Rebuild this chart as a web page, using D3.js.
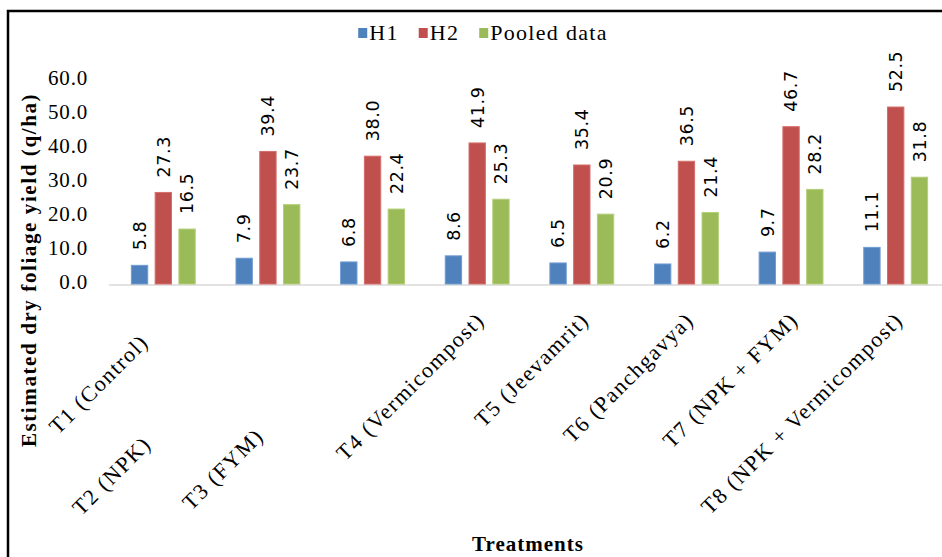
<!DOCTYPE html>
<html>
<head>
<meta charset="utf-8">
<script src="https://cdn.jsdelivr.net/npm/d3@7/dist/d3.min.js"></script>
<style>
  html, body { margin: 0; padding: 0; background: #fff; }
  svg { display: block; }
</style>
</head>
<body>
<script>
// ---- data ----
const categories = ["T1 (Control)", "T2 (NPK)", "T3 (FYM)", "T4 (Vermicompost)", "T5 (Jeevamrit)", "T6 (Panchgavya)", "T7 (NPK + FYM)", "T8 (NPK + Vermicompost)"];
const seriesNames = ["H1", "H2", "Pooled data"];
const h1Values = [5.8, 7.9, 6.8, 8.6, 6.5, 6.2, 9.7, 11.1];
const h2Values = [27.3, 39.4, 38.0, 41.9, 35.4, 36.5, 46.7, 52.5];
const pooledValues = [16.5, 23.7, 22.4, 25.3, 20.9, 21.4, 28.2, 31.8];
const yTicks = [0, 10, 20, 30, 40, 50, 60];
const yTitle = "Estimated dry foliage yield (q/ha)";
const xTitle = "Treatments";

// ---- style / layout ----
const W = 942, H = 557;
const colors = ["#4f81bd", "#c0504d", "#9bbb59"];
const strokes = ["#6f9bd1", "#d46e6b", "#b3cf78"];
const labelShift = [22, 124, 116, 0, 0, 0, 0, 0]; // staggering of category labels along their diagonal
const serif = "'Liberation Serif', 'Times New Roman', serif";
const sans = "'DejaVu Sans', Verdana, sans-serif";

const svg = d3.select("body").append("svg").attr("width", W).attr("height", H);
svg.append("rect").attr("width", W).attr("height", H).attr("fill", "#fff");

// frame (cropped on right and bottom)
svg.append("path").attr("d", `M8,${H + 5} V11 H${W + 5}`)
  .attr("fill", "none").attr("stroke", "#000").attr("stroke-width", 2.5);

const table = categories.map((c, i) => ({ cat: c, vals: [h1Values[i], h2Values[i], pooledValues[i]] }));

const x0 = d3.scaleBand().domain(categories).range([111, 948]).paddingInner(0.38).paddingOuter(0.19);
const x1 = d3.scaleBand().domain(seriesNames).range([0, x0.bandwidth()]).paddingInner(0.27);
const y = d3.scaleLinear().domain([0, 60]).range([285, 81.6]);

// y tick labels
const yAxis = d3.axisLeft(y).tickValues(yTicks).tickSize(0).tickPadding(0).tickFormat(d => d.toFixed(1));
const yg = svg.append("g").attr("transform", "translate(88,0)").call(yAxis);
yg.select(".domain").remove();
yg.selectAll("text")
  .attr("font-family", serif).attr("font-size", 21).attr("fill", "#000")
  .attr("letter-spacing", 0.8).attr("dy", "0.25em").attr("text-anchor", "end")
  .attr("transform", "translate(0,-2)");

// x axis line
svg.append("line").attr("x1", 109).attr("x2", W).attr("y1", y(0)).attr("y2", y(0))
  .attr("stroke", "#d9d9d9").attr("stroke-width", 1.5);

// bars
const groups = svg.append("g").selectAll("g").data(table).join("g")
  .attr("transform", d => `translate(${x0(d.cat)},0)`);

groups.selectAll("rect").data(d => d.vals.map((v, k) => ({ v, k, s: seriesNames[k] }))).join("rect")
  .attr("x", d => x1(d.s) + 0.5)
  .attr("y", d => y(d.v))
  .attr("width", x1.bandwidth() - 1)
  .attr("height", d => y(0) - y(d.v) - 1)
  .attr("fill", d => colors[d.k])
  .attr("stroke", d => strokes[d.k]).attr("stroke-width", 1);

// value labels
groups.selectAll("text.val").data(d => d.vals.map((v, k) => ({ v, k, s: seriesNames[k] }))).join("text")
  .attr("class", "val")
  .attr("transform", d => `translate(${x1(d.s) + x1.bandwidth() / 2},${y(d.v) - 15}) rotate(-90)`)
  .attr("dy", "0.36em")
  .attr("text-anchor", "start")
  .attr("font-family", sans).attr("font-size", 17.5).attr("fill", "#000")
  .attr("letter-spacing", 0.6)
  .text(d => d.v.toFixed(1));

// category labels (rotated -45)
svg.append("g").selectAll("text").data(categories).join("text")
  .attr("transform", (d, i) => {
    const cx = x0(d) + x0.bandwidth() / 2 + 3 - labelShift[i];
    const cy = 316 + labelShift[i];
    return `translate(${cx},${cy}) rotate(-45)`;
  })
  .attr("text-anchor", "end").attr("dy", "0.35em")
  .attr("font-family", serif).attr("font-size", 22).attr("fill", "#000")
  .attr("letter-spacing", 1.5)
  .text(d => d);

// y title
svg.append("text")
  .attr("transform", "translate(36,270) rotate(-90)")
  .attr("text-anchor", "middle")
  .attr("font-family", serif).attr("font-weight", "bold").attr("font-size", 21)
  .attr("letter-spacing", 1.6).attr("fill", "#000")
  .text(yTitle);

// x title
svg.append("text")
  .attr("x", 528).attr("y", 551)
  .attr("text-anchor", "middle")
  .attr("font-family", serif).attr("font-weight", "bold").attr("font-size", 21)
  .attr("letter-spacing", 1).attr("fill", "#000")
  .text(xTitle);

// legend
const leg = svg.append("g");
const items = leg.selectAll("g").data(seriesNames).join("g");
items.append("rect").attr("width", 9).attr("height", 10).attr("y", 28).attr("fill", (d, i) => colors[i]);
items.append("text").attr("x", 11).attr("y", 40)
  .attr("font-family", serif).attr("font-size", 22).attr("letter-spacing", 1.3).attr("fill", "#000")
  .text(d => d);
let cursor = 0;
const offs = [];
items.each(function () {
  offs.push(cursor);
  const w = d3.select(this).select("text").node().getComputedTextLength();
  cursor += 11 + w + 20;
});
const total = cursor - 20;
const startX = 483 - total / 2;
items.attr("transform", (d, i) => `translate(${startX + offs[i]},0)`);
</script>
</body>
</html>
